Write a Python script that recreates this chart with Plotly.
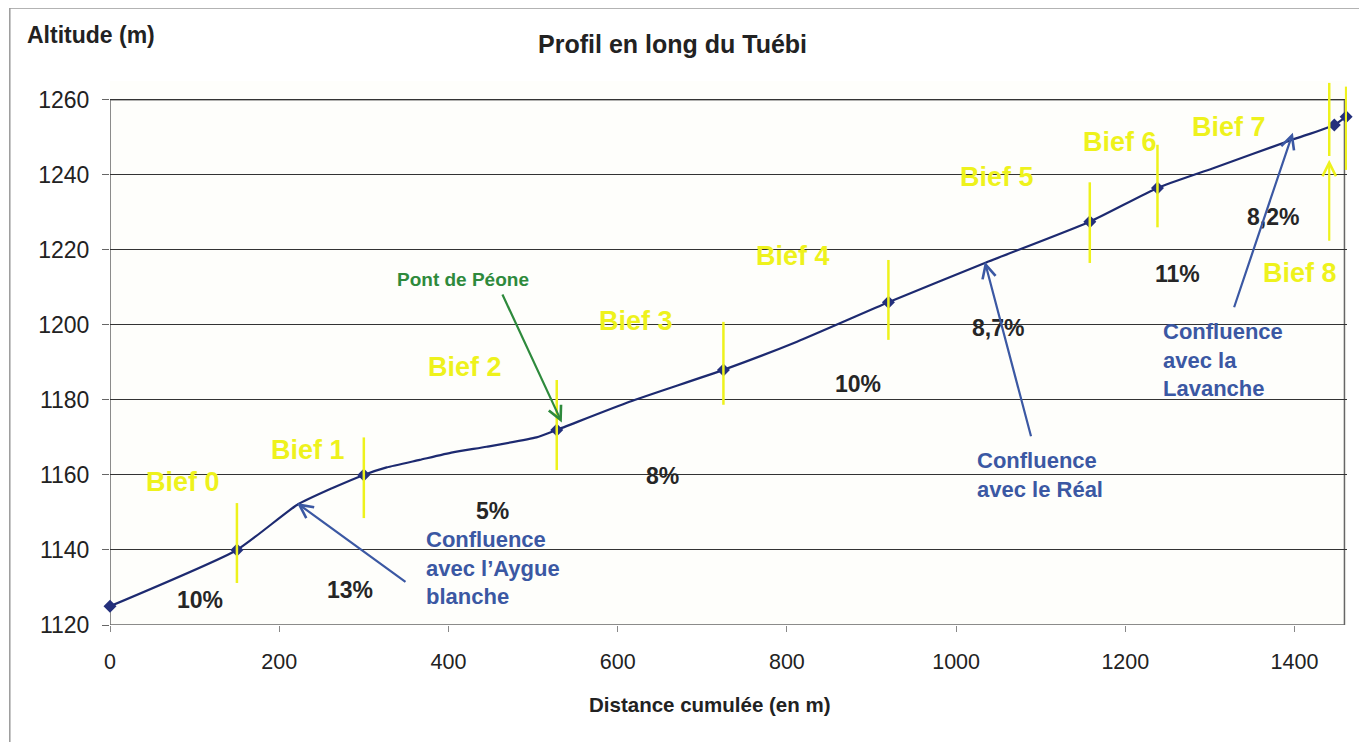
import plotly.graph_objects as go

# profile points (distance in m, altitude in m)
PROFILE_DIST = [0, 150, 221, 263, 300, 327, 366, 405, 445, 504, 528, 614, 725, 812, 920, 1034, 1158, 1238, 1303, 1398, 1447, 1461]
PROFILE_ALT = [1125, 1140, 1152, 1156.5, 1160, 1162, 1164, 1166, 1167.5, 1170, 1172, 1179.5, 1188, 1195.5, 1206, 1216.5, 1227.5, 1236.5, 1241.7, 1249.4, 1253.3, 1255.5]

# measured points (markers)
POINT_DIST = [0, 150, 300, 528, 725, 920, 1158, 1238, 1447, 1461]
POINT_ALT = [1125, 1140, 1160, 1172, 1188, 1206, 1227.5, 1236.5, 1253.3, 1255.5]

# reach boundaries (yellow ticks): x, bottom, top
LIMIT_DIST = [150, 300, 528, 725, 920, 1158, 1238, 1441, 1461]
LIMIT_LOW = [1131.2, 1148.5, 1161.3, 1178.7, 1196, 1216.5, 1226, 1245, 1241.3]
LIMIT_HIGH = [1152.5, 1170, 1185.3, 1200.8, 1217.3, 1238, 1248, 1264.5, 1263.5]

BIEF_NAMES = ['Bief 0', 'Bief 1', 'Bief 2', 'Bief 3', 'Bief 4', 'Bief 5', 'Bief 6', 'Bief 7', 'Bief 8']
SLOPES = ['10%', '13%', '5%', '8%', '10%', '8,7%', '11%', '8,2%']

FONT = "Arial, 'Liberation Sans', sans-serif"
YELLOW = '#EEF21C'
BLUE = '#3B58A3'
GREEN = '#2E8A3C'
NAVY = '#1D2A70'

# where the labels sit on the chart
bief_pos = [(86, 1158), (234, 1166.7), (420, 1188.8), (622, 1201), (807, 1218.4),
            (1048, 1239.5), (1194, 1248.8), (1322, 1252.8), (1406, 1213.9)]
slope_pos = [(106, 1126.7), (284, 1129.3), (452, 1150.3), (653, 1159.7),
             (884, 1184.3), (1050, 1199.2), (1262, 1213.6), (1374, 1228.8)]

fig = go.Figure()

fig.add_trace(go.Scatter(
    x=PROFILE_DIST, y=PROFILE_ALT, mode='lines',
    line=dict(color=NAVY, width=2.2, shape='spline', smoothing=0.5),
    hoverinfo='skip', showlegend=False,
))
fig.add_trace(go.Scatter(
    x=POINT_DIST, y=POINT_ALT, mode='markers',
    marker=dict(symbol='diamond', size=10, color='#24307C'),
    cliponaxis=False, showlegend=False,
))

shapes = []
# outer frame of the chart
shapes.append(dict(type='rect', xref='paper', yref='paper', x0=-0.081, x1=1.03, y0=-0.23, y1=1.134,
                   line=dict(color='#9a9a9a', width=1.5), layer='below'))
# plot box
shapes.append(dict(type='rect', xref='x', yref='y', x0=0, x1=1459, y0=1120, y1=1260,
                   line=dict(color='#666666', width=1.5), layer='below'))
for x, lo, hi in zip(LIMIT_DIST, LIMIT_LOW, LIMIT_HIGH):
    shapes.append(dict(type='line', xref='x', yref='y', x0=x, x1=x, y0=lo, y1=hi,
                       line=dict(color=YELLOW, width=2.5), layer='above'))

annotations = []
for name, (x, y) in zip(BIEF_NAMES, bief_pos):
    annotations.append(dict(x=x, y=y, xref='x', yref='y', text=name, showarrow=False,
                            font=dict(family=FONT, size=27, color=YELLOW, weight='bold')))
for s, (x, y) in zip(SLOPES, slope_pos):
    annotations.append(dict(x=x, y=y, xref='x', yref='y', text=s, showarrow=False,
                            font=dict(family=FONT, size=23, color='#262626', weight='bold')))

blue_notes = [
    ('Confluence<br>avec l\u2019Aygue<br>blanche', 371, 1135.1),
    ('Confluence<br>avec le Réal', 1022, 1160),
    ('Confluence<br>avec la<br>Lavanche', 1242, 1190.7),
]
for txt, x, y in blue_notes:
    annotations.append(dict(x=x, y=y, xref='x', yref='y', text=txt, showarrow=False,
                            xanchor='left', align='left',
                            font=dict(family=FONT, size=22, color=BLUE, weight='bold')))
annotations.append(dict(x=417, y=1212, xref='x', yref='y', text='Pont de Péone', showarrow=False,
                        font=dict(family=FONT, size=19, color=GREEN, weight='bold')))

# arrows: tail -> head
arrows = [
    (351, 1131.2, 221, 1152.5, BLUE),
    (1089, 1169.9, 1034, 1216.8, BLUE),
    (1328, 1204.3, 1398, 1251.2, BLUE),
    (463, 1208.5, 534, 1174, GREEN),
    (1441, 1222, 1441, 1244, YELLOW),
]
for tx, ty, hx, hy, col in arrows:
    annotations.append(dict(x=hx, y=hy, ax=tx, ay=ty, xref='x', yref='y', axref='x', ayref='y',
                            text='', showarrow=True, arrowhead=5, arrowsize=1.2,
                            arrowwidth=2.2, arrowcolor=col, standoff=0))

annotations.append(dict(x=-0.069, y=1.085, xref='paper', yref='paper', text='Altitude (m)',
                        showarrow=False, xanchor='left', yanchor='middle',
                        font=dict(family=FONT, size=23, color='#222222', weight='bold')))
annotations.append(dict(x=0.485, y=-0.147, xref='paper', yref='paper', text='Distance cumulée (en m)',
                        showarrow=False, xanchor='center', yanchor='middle',
                        font=dict(family=FONT, size=20.5, color='#222222', weight='bold')))

# the page has an 8 px body margin, so the figure is 8 px smaller than the window
fig.update_layout(
    width=1359, height=734,
    margin=dict(l=102, r=20, t=73, b=117, autoexpand=False),
    paper_bgcolor='white', plot_bgcolor='#FEFEFB',
    title=dict(text='Profil en long du Tuébi', x=0.489, y=0.951, xanchor='center', yanchor='middle',
               font=dict(family=FONT, size=25, color='#222222', weight='bold')),
    xaxis=dict(range=[0, 1462], tickvals=[0, 200, 400, 600, 800, 1000, 1200, 1400],
               showgrid=False, zeroline=False, showline=False,
               ticks='outside', ticklen=6, tickcolor='#888888', ticklabelstandoff=11,
               tickfont=dict(family=FONT, size=21.5, color='#222222')),
    yaxis=dict(range=[1120, 1265], tickvals=[1120, 1140, 1160, 1180, 1200, 1220, 1240, 1260],
               showgrid=True, gridcolor='#333333', gridwidth=1, zeroline=False, showline=False,
               ticks='outside', ticklen=7, tickcolor='#666666', ticklabelstandoff=8,
               tickfont=dict(family=FONT, size=23, color='#222222')),
    shapes=shapes,
    annotations=annotations,
    showlegend=False,
)

fig.write_html("out.html")
